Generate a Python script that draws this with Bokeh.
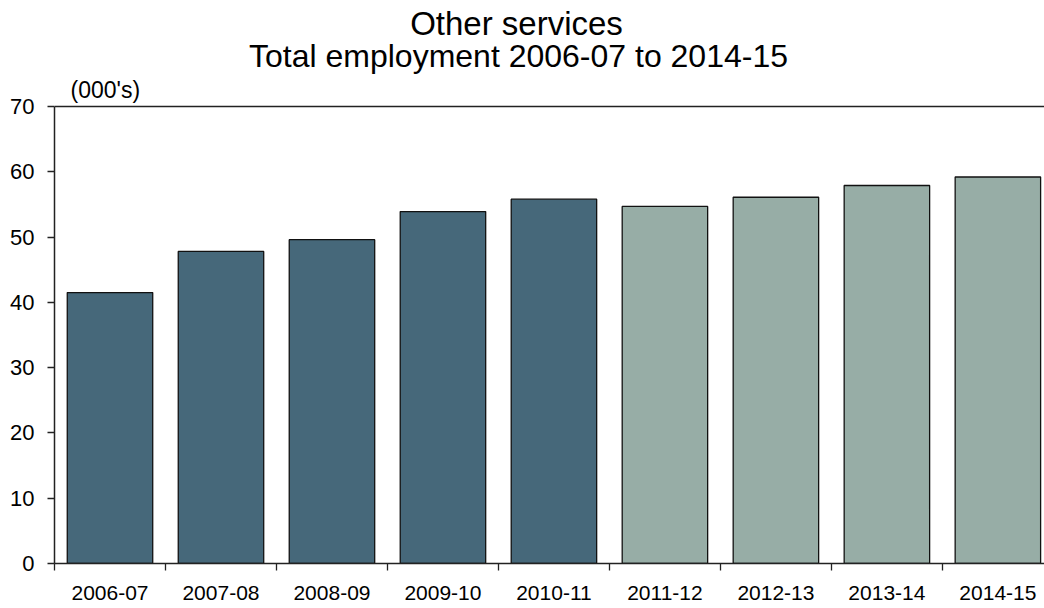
from bokeh.plotting import figure
from bokeh.models import Range1d, FixedTicker, Span, Label, ColumnDataSource
from bokeh.embed import file_html
from bokeh.resources import INLINE

# ---- data ----
categories = ["2006-07", "2007-08", "2008-09", "2009-10", "2010-11",
              "2011-12", "2012-13", "2013-14", "2014-15"]
employment = [41.5, 47.8, 49.6, 53.9, 55.8, 54.7, 56.1, 57.9, 59.2]
projection_start = "2011-12"
y_ticks = [0, 10, 20, 30, 40, 50, 60, 70]
title_line1 = "Other services"
title_line2 = "Total employment 2006-07 to 2014-15"
unit_label = "(000's)"

# ---- styles / layout ----
DARK = "#46687a"
LIGHT = "#97ada6"
FONT = "Liberation Sans"
W, H = 1044, 608
LEFT, BOTTOM = 54, 45
AXIS_TOP_PX = 106           # canvas y of the 70 line
X_START, X_END = -0.5, 8.42

frame_h = H - BOTTOM
y_max = y_ticks[-1]
y_end = y_max * frame_h / (frame_h - AXIS_TOP_PX)   # headroom for titles

idx = list(range(len(categories)))
split = categories.index(projection_start)
colors = [DARK if i < split else LIGHT for i in idx]

src = ColumnDataSource(dict(x=idx, top=employment, color=colors, cat=categories))

p = figure(width=W, height=H, output_backend="svg", toolbar_location=None,
           x_range=Range1d(X_START, X_END), y_range=Range1d(0, y_end),
           min_border_left=LEFT, min_border_right=0, min_border_top=0,
           min_border_bottom=BOTTOM)
p.title.visible = False
p.outline_line_color = None
p.xgrid.visible = False
p.ygrid.visible = False
p.background_fill_color = "white"
p.border_fill_color = "white"

p.vbar(x="x", top="top", width=0.77, bottom=0, source=src,
       fill_color="color", line_color="#111111", line_width=1.3)

# x axis: labels at centres, ticks at category boundaries
xa = p.xaxis[0]
xa.ticker = FixedTicker(ticks=idx, minor_ticks=[i - 0.5 for i in range(len(categories) + 1)])
xa.major_label_overrides = {i: c for i, c in enumerate(categories)}
xa.major_tick_out = 0
xa.major_tick_in = 0
xa.minor_tick_out = 7
xa.minor_tick_in = 0
xa.minor_tick_line_color = "#222222"
xa.minor_tick_line_width = 1.3
xa.axis_line_color = "#222222"
xa.axis_line_width = 1.5
xa.major_label_text_font = FONT
xa.major_label_text_font_size = "21px"
xa.major_label_text_color = "black"
xa.major_label_standoff = 15

ya = p.yaxis[0]
ya.ticker = FixedTicker(ticks=y_ticks)
ya.bounds = (0, y_max)
ya.major_tick_out = 7
ya.major_tick_in = 0
ya.minor_tick_line_color = None
ya.major_tick_line_color = "#222222"
ya.major_tick_line_width = 1.3
ya.axis_line_color = "#222222"
ya.axis_line_width = 1.5
ya.major_label_text_font = FONT
ya.major_label_text_font_size = "22px"
ya.major_label_text_color = "black"
ya.major_label_standoff = 13

p.add_layout(Span(location=y_max, dimension="width", line_color="#222222", line_width=1.5))

x_mid = (X_START + X_END) / 2
p.add_layout(Label(x=X_START, y=y_max, x_offset=16, y_offset=17, text=unit_label,
                   text_font=FONT, text_font_size="23px", text_color="black",
                   text_baseline="middle", text_align="left"))
p.add_layout(Label(x=x_mid, y=y_max, x_offset=-31, y_offset=51, text=title_line2,
                   text_font=FONT, text_font_size="32px", text_color="black",
                   text_baseline="middle", text_align="center"))
p.add_layout(Label(x=x_mid, y=y_max, x_offset=-33, y_offset=83.5, text=title_line1,
                   text_font=FONT, text_font_size="33px", text_color="black",
                   text_baseline="middle", text_align="center"))

open("out.html", "w").write(file_html(p, INLINE))
